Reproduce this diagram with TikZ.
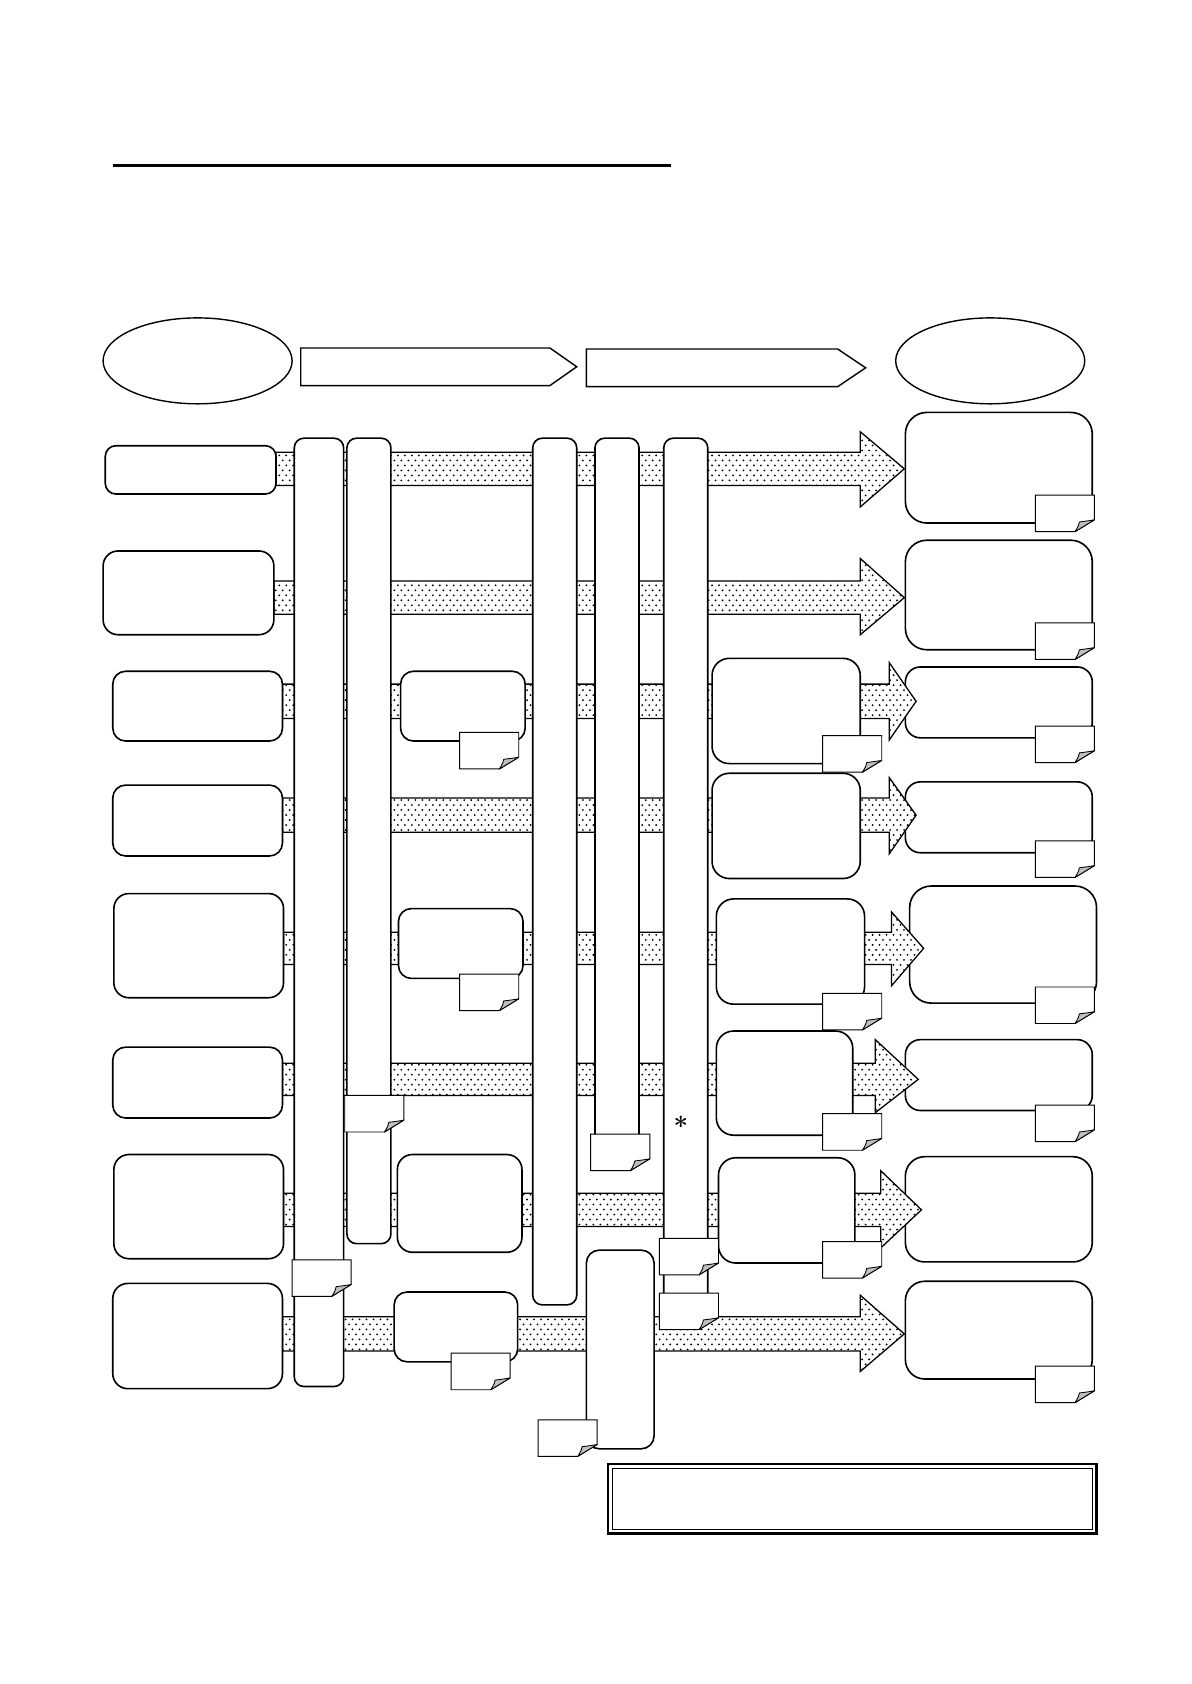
\documentclass[tikz,border=0pt]{standalone}
\usetikzlibrary{shapes.geometric,patterns,calc}
\pgfdeclarelayer{bg}
\pgfdeclarelayer{lo}
\pgfdeclarelayer{mid}
\pgfsetlayers{bg,lo,mid,main}
\pgfdeclarepatternformonly{mydots}{\pgfpoint{-1.5pt}{-1.5pt}}{\pgfpoint{5pt}{6.2pt}}{\pgfpoint{6.5pt}{9.3pt}}{%
  \pgfpathcircle{\pgfpoint{0pt}{0pt}}{0.95pt}%
  \pgfpathcircle{\pgfpoint{3.25pt}{4.65pt}}{0.95pt}%
  \pgfusepath{fill}}
\tikzset{
  box/.style={draw, line width=1.5pt, fill=white, inner sep=0pt, outer sep=0pt},
  oval/.style={ellipse, draw, line width=1.3pt, fill=white, inner sep=0pt, outer sep=0pt},
  pent/.style={draw, line width=1.3pt, fill=white, line join=miter},
  bandstyle/.style={draw, line width=1.2pt, preaction={fill=white}, pattern=mydots, line join=miter},
  notestyle/.style={draw, line width=0.9pt, fill=white},
  curlstyle/.style={draw, line width=0.8pt, fill=black!25, line join=round},
}
\newcommand\bx[6]{\node[box, rounded corners=#6pt, minimum width={(#4-#2)*1pt}, minimum height={(#5-#3)*1pt}] (#1) at ({(#2+#4)/2},{(#3+#5)/2}) {};}
\newcommand\pnote[2]{%
  \draw[notestyle] (#1,#2) -- ++(55,0) -- ++(0,23) -- ++(-18,11) -- ++(-37,0) -- cycle;
  \draw[curlstyle] (#1+55,#2+23) .. controls (#1+49,#2+24) .. (#1+41,#2+25) .. controls (#1+40,#2+29) .. (#1+37,#2+34) -- cycle;}
\newcommand\band[9]{%
  \draw[bandstyle] (#1.east |- 0,#3) -- (#5,#3) -- (#5,#6) -- ($(#2.west |- 0,#8)+(#9,0)$) -- (#5,#7) -- (#5,#4) -- (#1.east |- 0,#4) -- cycle;}
\begin{document}
\begin{tikzpicture}[x=1pt,y=-1pt]
\useasboundingbox (0,0) rectangle (1109,1568);
\begin{pgfonlayer}{bg}
\fill[white] (0,0) rectangle (1109,1568);
\end{pgfonlayer}
% title rule
\draw[line width=2.5pt] (105,154) -- (625,154);
% header shapes
\node[oval, minimum width=176pt, minimum height=80pt] (EL) at (184,336) {};
\node[oval, minimum width=176pt, minimum height=80pt] (ER) at (922,336) {};
\draw[pent] (280,324) -- (512,324) -- (537,341.5) -- (512,359) -- (280,359) -- cycle;
\draw[pent] (546,325) -- (780,325) -- (806,342.5) -- (780,360) -- (546,360) -- cycle;
% right column boxes (below the arrow heads)
\begin{pgfonlayer}{lo}
\bx{R1}{843}{384}{1017}{487}{20}
\bx{R2}{843}{503}{1017}{605}{20}
\bx{R3}{843}{621}{1017}{687}{14}
\bx{R4}{843}{728}{1017}{794}{14}
\bx{R5}{847}{825}{1021}{934}{20}
\bx{R6}{843}{968}{1017}{1034}{14}
\bx{R7}{843}{1077}{1017}{1175}{18}
\bx{R8}{843}{1193}{1017}{1284}{18}
\end{pgfonlayer}
% left column boxes
\bx{L1}{98}{415}{257}{460}{10}
\bx{L2}{96}{513}{255}{591}{14}
\bx{L3}{105}{625}{263}{690}{12}
\bx{L4}{105}{731}{263}{797}{12}
\bx{L5}{106}{832}{264}{929}{14}
\bx{L6}{105}{975}{263}{1041}{12}
\bx{L7}{106}{1075}{264}{1172}{14}
\bx{L8}{105}{1195}{263}{1293}{14}
% bands
\begin{pgfonlayer}{mid}
\band{L1}{R1}{421}{452}{801}{402}{472}{436.5}{-1}
\band{L2}{R2}{541}{572}{801}{520}{591}{556.5}{-1}
\band{L3}{R3}{637}{669}{828}{617}{689}{653}{10}
\band{L4}{R4}{743}{775}{828}{724}{795}{759}{10}
\band{L5}{R5}{868}{898}{830}{849}{918}{883}{13}
\band{L6}{R6}{990}{1020}{815}{968}{1036}{1005}{12}
\band{L7}{R7}{1111}{1142}{820}{1090}{1162}{1126.5}{15}
\band{L8}{R8}{1226}{1258}{801}{1206}{1277}{1242}{-1}
\end{pgfonlayer}
% vertical bars
\bx{V1}{274}{408}{320}{1291}{9}
\bx{V2}{323}{408}{364}{1158}{9}
\bx{V3}{496}{408}{537}{1215}{9}
\bx{V4}{554}{408}{595}{1085}{9}
\bx{V5}{618}{408}{659}{1230}{9}
\bx{V6}{546}{1164}{609}{1349}{12}
% middle boxes
\bx{M3}{373}{625}{489}{690}{12}
\bx{M5}{371}{846}{487}{911}{12}
\bx{M7}{370}{1075}{486}{1166}{14}
\bx{M8}{367}{1203}{482}{1268}{12}
% column C boxes
\bx{C3}{663}{613}{801}{711}{16}
\bx{C4}{663}{720}{801}{818}{16}
\bx{C5}{667}{837}{805}{935}{16}
\bx{C6}{667}{960}{794}{1057}{16}
\bx{C7}{669}{1078}{796}{1176}{16}
% notes
\pnote{964}{461}
\pnote{964}{580}
\pnote{964}{676}
\pnote{964}{783}
\pnote{964}{919}
\pnote{964}{1029}
\pnote{964}{1272}
\pnote{766}{685}
\pnote{766}{925}
\pnote{766}{1037}
\pnote{766}{1156}
\pnote{428}{682}
\pnote{428}{907}
\pnote{420}{1260}
\pnote{272}{1173}
\pnote{321}{1020}
\pnote{550}{1056}
\pnote{614}{1153}
\pnote{614}{1204}
\pnote{501}{1322}
% asterisk
\node[inner sep=0pt] (ast) at (634,1048) {\fontsize{24}{28}\selectfont\bfseries *};
% double frame
\node[draw, line width=2.2pt, minimum width=455pt, minimum height=65pt, inner sep=0pt, outer sep=0pt] (frame) at (793.5,1395.5) {};
\node[draw, line width=1pt, minimum width=447pt, minimum height=57pt, inner sep=0pt, outer sep=0pt] (frameinner) at (frame.center) {};
\end{tikzpicture}
\end{document}
